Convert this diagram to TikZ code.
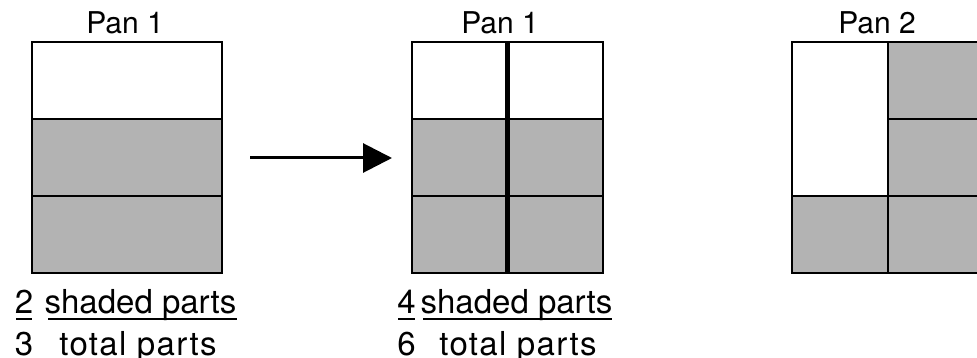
\documentclass[tikz,border=0pt]{standalone}
\usepackage{fontspec}
\setmainfont{TeX Gyre Heros}
\usetikzlibrary{arrows.meta}
\definecolor{panegray}{HTML}{B3B3B3}
\tikzset{
  frame/.style={draw=black, line width=2.8pt},
  grid/.style={draw=black, line width=2.2pt},
  cut/.style={draw=black, line width=5.5pt},
  graycell/.style={fill=panegray},
  title/.style={anchor=base, inner sep=0pt, font=\fontsize{30}{36}\selectfont},
  lab/.style={anchor=base, inner sep=0pt, font=\fontsize{33}{40}\selectfont},
  widelab/.style={lab, font=\fontsize{33}{40}\selectfont\addfontfeature{LetterSpace=4}},
  uline/.style={draw=black, line width=2pt},
  bigarrow/.style={draw=black, line width=3pt, -{Triangle[length=29pt,width=29pt]}}
}
\begin{document}
\begin{tikzpicture}[x=1pt, y=-1pt]
\useasboundingbox (0,0) rectangle (977,358);
\clip (0,0) rectangle (977,358);
% ---- Pan 1 (left)
\path[graycell] (32,119) rectangle (222,273);
\draw[grid] (32,119) -- (222,119);
\draw[grid] (32,196) -- (222,196);
\draw[frame] (32,42) rectangle (222,273);
\node[title] (t1) at (125,34) {Pan 1};
% ---- Pan 1 (middle)
\path[graycell] (412,119) rectangle (603,273);
\draw[grid] (412,119) -- (603,119);
\draw[grid] (412,196) -- (603,196);
\draw[cut] (507.5,42) -- (507.5,273);
\draw[frame] (412,42) rectangle (603,273);
\node[title] (t2) at (500,34) {Pan 1};
% ---- Pan 2 (right)
\path[graycell] (792,196) rectangle (888,273);
\path[graycell] (888,42) rectangle (984,273);
\draw[grid] (888,119) -- (984,119);
\draw[grid] (792,196) -- (984,196);
\draw[grid] (888,42) -- (888,273);
\draw[frame] (792,42) rectangle (984,273);
\node[title] (t3) at (877,34) {Pan 2};
% ---- arrow
\coordinate (as) at (250,158);
\coordinate (ae) at (392,158);
\draw[bigarrow] (as) -- (ae);
% ---- fraction labels (left)
\node[lab] (n1) at (24,313) {2};
\node[lab] (d1) at (24,355.5) {3};
\node[lab] (s1) at (140.5,313) {shaded parts};
\node[widelab] (p1) at (138,355.5) {total parts};
\draw[uline] (16,318.5) -- (32,318.5);
\draw[uline] (48,318.5) -- (237,318.5);
% ---- fraction labels (middle)
\node[lab] (n2) at (406.5,313) {4};
\node[lab] (d2) at (406.5,355.5) {6};
\node[lab] (s2) at (516.5,313) {shaded parts};
\node[widelab] (p2) at (518,355.5) {total parts};
\draw[uline] (398,318.5) -- (415,318.5);
\draw[uline] (423,318.5) -- (612,318.5);
\end{tikzpicture}
\end{document}
